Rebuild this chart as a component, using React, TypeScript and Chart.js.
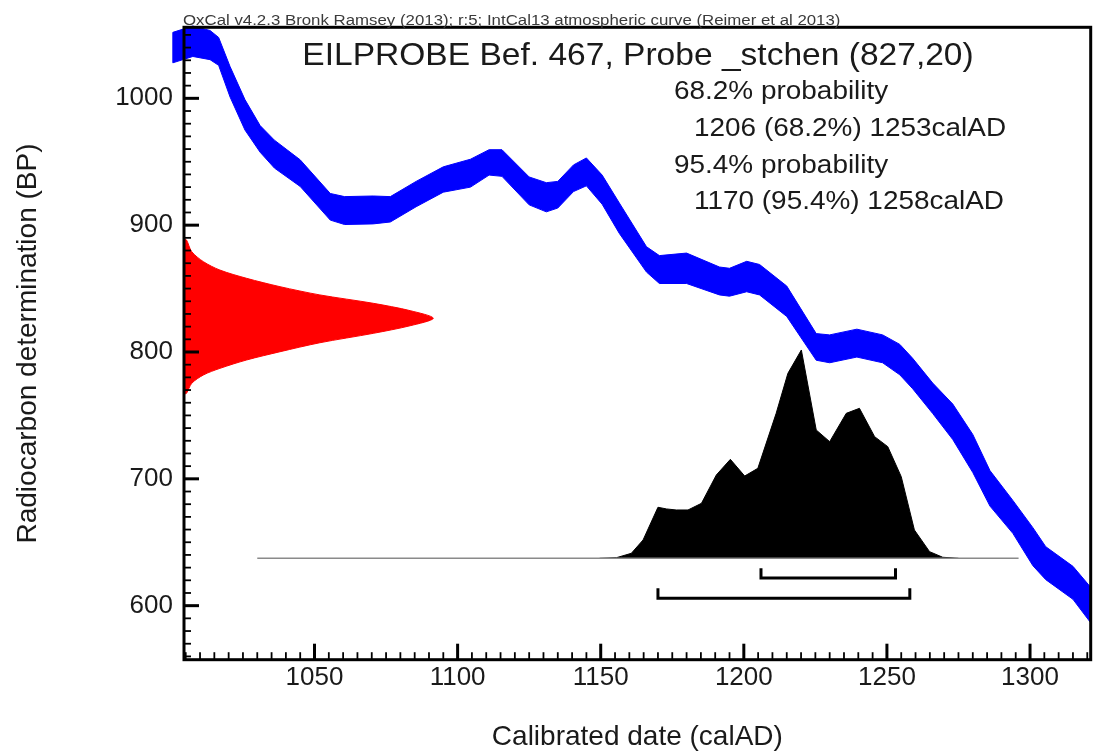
import React, { useEffect, useRef } from "react";
import { Chart, registerables } from "chart.js";

Chart.register(...registerables);

// ---------- axis ranges ----------
const X_MIN = 1004.4;
const X_MAX = 1321.2;
const Y_MIN = 557.4;
const Y_MAX = 1056;
const xTickValues = [1050, 1100, 1150, 1200, 1250, 1300];
const yTickValues = [600, 700, 800, 900, 1000];

// ---------- calibration curve (IntCal13) : calendar year, BP mean, 1-sigma ----------
const curveYears = [
  1000.5, 1007.5, 1013.5, 1016.5, 1020.5, 1025.7, 1031, 1036, 1045, 1055.5, 1060.5, 1070.5,
  1076.5, 1085.5, 1095, 1104.5, 1111, 1115.5, 1125, 1131, 1135, 1140.5, 1145, 1150.5,
  1156.5, 1166, 1170.5, 1180, 1191.5, 1195, 1201, 1205.5, 1215, 1225.3, 1230, 1239.5,
  1248.5, 1254.5, 1259, 1266, 1273, 1280, 1286, 1294, 1301, 1305.5, 1315, 1321.2,
];
const curveBP = [
  1040, 1045, 1042, 1037, 1013, 987, 968, 956, 941, 914.5, 911.5, 912,
  912.5, 924.5, 936, 941, 949.5, 949, 927, 922, 924, 937, 942, 928,
  905.5, 873, 865, 866, 856, 855, 859.5, 857, 840, 804, 802.5, 807,
  802.5, 794, 783, 763.5, 745, 720, 692.5, 670, 646.5, 633.5, 618, 600.5,
];
const curveSigma = [
  12, 12, 11.5, 11, 12, 12, 10.5, 11, 10.5, 10.5, 11, 11,
  10, 10, 10, 11, 10, 10.5, 11, 11.5, 10.5, 10.5, 11, 11.5,
  12, 10, 11, 12, 11, 11, 12, 12, 12, 10.5, 11, 11,
  11, 12, 12, 12, 14, 15, 14, 13, 15, 13, 13, 14,
];

// ---------- radiocarbon measurement 827 +/- 20 BP (relative density) ----------
const measBP = [
  889, 888.3, 879.1, 871.2, 864.6, 858.1, 851.5, 845.0, 838.4, 832.6, 826.6,
  820.7, 814.7, 807.3, 800.2, 793.7, 787.1, 781.9, 775.3, 767.4, 767,
];
const measDensity = [
  0, 0.01, 0.031, 0.078, 0.144, 0.251, 0.385, 0.545, 0.759, 0.907, 1.0,
  0.907, 0.759, 0.545, 0.385, 0.251, 0.144, 0.078, 0.031, 0.01, 0,
];

// ---------- calibrated posterior (relative probability) ----------
const postYears = [
  1149.6, 1155.5, 1160.7, 1164.8, 1170.0, 1173.0, 1176.4, 1180.5, 1185.2, 1190.4, 1195.3,
  1200.3, 1204.9, 1211.3, 1215.4, 1220.1, 1225.3, 1230.0, 1235.8, 1240.4, 1245.7, 1250.3,
  1255.0, 1259.6, 1264.9, 1269.5, 1275,
];
const postProb = [
  0, 0.003, 0.024, 0.088, 0.245, 0.237, 0.232, 0.232, 0.264, 0.4, 0.475,
  0.395, 0.432, 0.696, 0.888, 1.0, 0.616, 0.56, 0.696, 0.72, 0.584, 0.536,
  0.392, 0.136, 0.032, 0.005, 0,
];
const baselineYears = [1030, 1296];

// ---------- ranges ----------
const range68 = [1206, 1253];
const range95 = [1170, 1258];

// ---------- texts ----------
const creditText =
  "OxCal v4.2.3 Bronk Ramsey (2013); r:5; IntCal13 atmospheric curve (Reimer et al 2013)";
const titleText = "EILPROBE Bef. 467, Probe _stchen (827,20)";
const probLabels = ["68.2% probability", "95.4% probability"];
const rangeLabels = ["1206 (68.2%) 1253calAD", "1170 (95.4%) 1258calAD"];
const xTitle = "Calibrated date (calAD)";
const yTitle = "Radiocarbon determination (BP)";

const FONT = '"Liberation Sans", Arial, Helvetica, sans-serif';

function stretchText(
  ctx: CanvasRenderingContext2D,
  text: string,
  x: number,
  y: number,
  size: number,
  align: CanvasTextAlign,
  baseline: CanvasTextBaseline,
  color: string,
  sx: number
) {
  ctx.save();
  ctx.font = `${size}px ${FONT}`;
  ctx.fillStyle = color;
  ctx.textAlign = align;
  ctx.textBaseline = baseline;
  ctx.translate(x, y);
  ctx.scale(sx, 1);
  ctx.fillText(text, 0, 0);
  ctx.restore();
}

// fills the calibration band polygon (from the points Chart.js positioned) without clipping
const bandFillPlugin = {
  id: "bandFill",
  beforeDatasetDraw(chart: any, args: any) {
    if (args.index !== 0) return;
    const pts = args.meta.data;
    const ctx = chart.ctx;
    ctx.save();
    ctx.fillStyle = "#0000ff";
    ctx.beginPath();
    pts.forEach((p: any, i: number) => (i ? ctx.lineTo(p.x, p.y) : ctx.moveTo(p.x, p.y)));
    ctx.closePath();
    ctx.fill();
    ctx.restore();
  },
};

const overlayPlugin = {
  id: "oxcalOverlay",
  afterDraw(chart: any) {
    const { ctx, chartArea: a, scales } = chart;
    const xs = scales.x;
    const ys = scales.y;
    ctx.save();
    ctx.strokeStyle = "#000";
    ctx.lineCap = "butt";
    // inward ticks on the x axis
    for (let v = 1005; v <= X_MAX; v += 5) {
      const px = xs.getPixelForValue(v);
      const major = v % 50 === 0;
      ctx.lineWidth = major ? 3 : 1.8;
      ctx.beginPath();
      ctx.moveTo(px, a.bottom);
      ctx.lineTo(px, a.bottom - (major ? 16 : 7.5));
      ctx.stroke();
    }
    // inward ticks on the y axis
    for (let v = 560; v <= Y_MAX; v += 10) {
      const py = ys.getPixelForValue(v);
      const major = v % 100 === 0;
      ctx.lineWidth = major ? 3 : 1.8;
      ctx.beginPath();
      ctx.moveTo(a.left, py);
      ctx.lineTo(a.left + (major ? 15 : 7), py);
      ctx.stroke();
    }
    // frame
    ctx.lineWidth = 3;
    ctx.strokeRect(a.left, a.top, a.right - a.left, a.bottom - a.top);
    ctx.restore();

    // texts
    stretchText(ctx, creditText, 183, 24.5, 15.3, "left", "alphabetic", "#3a3a3a", 1.1);
    stretchText(ctx, titleText, 638, 65, 30.5, "center", "alphabetic", "#1a1a1a", 1.1);
    stretchText(ctx, probLabels[0], 674, 92, 25.4, "left", "middle", "#1a1a1a", 1.1);
    stretchText(ctx, rangeLabels[0], 694, 129, 25.4, "left", "middle", "#1a1a1a", 1.1);
    stretchText(ctx, probLabels[1], 674, 166, 25.4, "left", "middle", "#1a1a1a", 1.1);
    stretchText(ctx, rangeLabels[1], 694, 202, 25.4, "left", "middle", "#1a1a1a", 1.1);
  },
};

// bracket geometry (in relative-probability units below the baseline)
const BR68_TOP = -0.048;
const BR68_BAR = -0.0946;
const BR95_TOP = -0.144;
const BR95_BAR = -0.192;

export default function App() {
  const canvasRef = useRef<HTMLCanvasElement | null>(null);

  useEffect(() => {
    const canvas = canvasRef.current;
    if (!canvas) return;

    const upper = curveYears.map((x, i) => ({ x, y: curveBP[i] + curveSigma[i] }));
    const lower = curveYears.map((x, i) => ({ x, y: curveBP[i] - curveSigma[i] })).reverse();
    const band = [...upper, ...lower, upper[0]];

    const meas = measBP.map((y, i) => ({ x: measDensity[i], y }));
    const post = postYears.map((x, i) => ({ x, y: postProb[i] }));
    const base = baselineYears.map((x) => ({ x, y: 0 }));
    const br68 = [
      { x: range68[0], y: BR68_TOP },
      { x: range68[0], y: BR68_BAR },
      { x: range68[1], y: BR68_BAR },
      { x: range68[1], y: BR68_TOP },
    ];
    const br95 = [
      { x: range95[0], y: BR95_TOP },
      { x: range95[0], y: BR95_BAR },
      { x: range95[1], y: BR95_BAR },
      { x: range95[1], y: BR95_TOP },
    ];

    const tickFont = { family: FONT, size: 26 };

    const chart = new Chart(canvas, {
      type: "line",
      data: {
        datasets: [
          {
            label: "IntCal13",
            data: band,
            xAxisID: "x",
            yAxisID: "y",
            borderColor: "#0000ff",
            borderWidth: 1,
            fill: false,
            pointRadius: 0,
            tension: 0,
            clip: false,
          } as any,
          {
            label: "R_Date",
            data: meas,
            xAxisID: "xProb",
            yAxisID: "y",
            borderColor: "#ff0000",
            backgroundColor: "#ff0000",
            borderWidth: 1,
            fill: "shape",
            pointRadius: 0,
            tension: 0.3,
          } as any,
          {
            label: "baseline",
            data: base,
            xAxisID: "x",
            yAxisID: "yProb",
            borderColor: "#8a8a8a",
            borderWidth: 1.5,
            fill: false,
            pointRadius: 0,
          } as any,
          {
            label: "posterior",
            data: post,
            xAxisID: "x",
            yAxisID: "yProb",
            borderColor: "#000",
            backgroundColor: "#000",
            borderWidth: 1,
            fill: "origin",
            pointRadius: 0,
            tension: 0,
          } as any,
          {
            label: "68.2%",
            data: br68,
            xAxisID: "x",
            yAxisID: "yProb",
            borderColor: "#000",
            borderWidth: 3,
            fill: false,
            pointRadius: 0,
            tension: 0,
          } as any,
          {
            label: "95.4%",
            data: br95,
            xAxisID: "x",
            yAxisID: "yProb",
            borderColor: "#000",
            borderWidth: 3,
            fill: false,
            pointRadius: 0,
            tension: 0,
          } as any,
        ],
      },
      options: {
        responsive: false,
        animation: false,
        events: [],
        layout: { padding: { top: 27.3, right: 5.3, bottom: 0, left: 0 } },
        plugins: {
          legend: { display: false },
          tooltip: { enabled: false },
          title: { display: false },
        },
        scales: {
          x: {
            type: "linear",
            position: "bottom",
            min: X_MIN,
            max: X_MAX,
            grid: { display: false, drawTicks: false },
            border: { display: false },
            afterBuildTicks: (scale: any) => {
              scale.ticks = xTickValues.map((value) => ({ value }));
            },
            ticks: {
              autoSkip: false,
              maxRotation: 0,
              padding: 3,
              color: "#1a1a1a",
              font: tickFont,
              callback: (v: any) => String(v),
            },
            title: {
              display: true,
              text: xTitle,
              color: "#1a1a1a",
              font: { family: FONT, size: 28, lineHeight: 1 },
              padding: { top: 0, bottom: 1 },
            },
            afterFit: (scale: any) => {
              scale.height = 752 - 659.7;
            },
          },
          y: {
            type: "linear",
            position: "left",
            min: Y_MIN,
            max: Y_MAX,
            grid: { display: false, drawTicks: false },
            border: { display: false },
            afterBuildTicks: (scale: any) => {
              scale.ticks = yTickValues.map((value) => ({ value }));
            },
            ticks: {
              autoSkip: false,
              padding: 11,
              color: "#1a1a1a",
              font: tickFont,
              callback: (v: any) => String(v),
            },
            title: {
              display: true,
              text: yTitle,
              color: "#1a1a1a",
              font: { family: FONT, size: 28, lineHeight: 1 },
              padding: { top: 14, bottom: 0 },
            },
            afterFit: (scale: any) => {
              scale.width = 184;
            },
          },
          xProb: {
            type: "linear",
            display: false,
            position: "bottom",
            min: 0,
            max: 3.637,
          },
          yProb: {
            type: "linear",
            display: false,
            position: "left",
            min: -0.4867,
            max: 2.549,
          },
        },
      },
      plugins: [bandFillPlugin, overlayPlugin],
    } as any);

    return () => {
      chart.destroy();
    };
  }, []);

  return (
    <div style={{ position: "absolute", left: 0, top: 0, width: 1096, height: 752, background: "#fff" }}>
      <canvas ref={canvasRef} width={1096} height={752} />
    </div>
  );
}
